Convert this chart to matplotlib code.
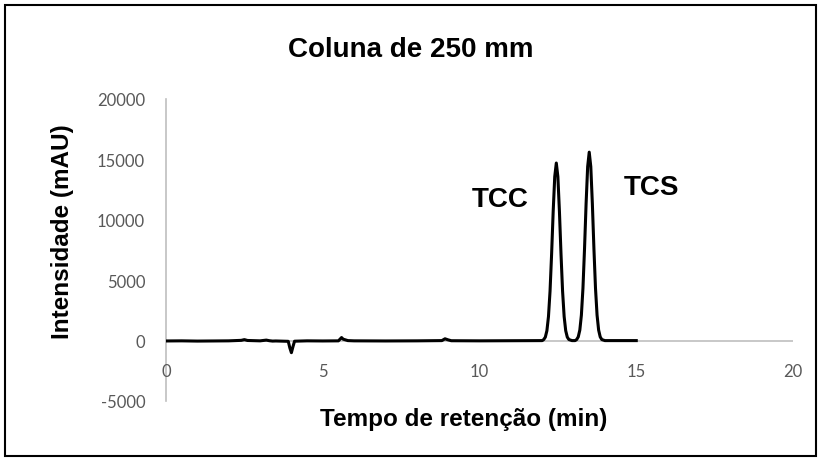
import numpy as np
import matplotlib
matplotlib.use('Agg')
import matplotlib.pyplot as plt
from matplotlib.patches import Rectangle

# Dữ liệu sắc ký đồ
tempo = [0, 0.5, 1.0, 1.5, 2.0, 2.4, 2.5, 2.6, 3.0, 3.2, 3.3, 3.4, 3.5,
         3.9, 3.95, 4.0, 4.05, 4.1, 4.5, 5.0, 5.5, 5.6, 5.65, 5.8, 6.0,
         7.0, 8.0, 8.8, 8.9, 9.0, 9.1, 10.0, 11.0, 12.0,
         12.05, 12.1, 12.15, 12.2, 12.25, 12.3, 12.35, 12.4, 12.45,
         12.5, 12.55, 12.6, 12.65, 12.7, 12.75, 12.8, 12.85, 12.95, 13.05,
         13.1, 13.15, 13.2, 13.25, 13.3, 13.35, 13.4, 13.45, 13.5,
         13.55, 13.6, 13.65, 13.7, 13.75, 13.8, 13.85, 13.9, 14.0, 15.0]
intensidade = [-30, -20, -40, -30, -20, 20, 80, 10, -20, 40, -10, -40, -30,
               -60, -600, -1000, -500, -50, -20, -30, -20, 250, 120, 0, -20,
               -30, -20, 0, 150, 60, -10, -20, -10, 0,
               90, 290, 820, 1990, 4090, 7160, 10670, 13570, 14700,
               13570, 10670, 7160, 4090, 1990, 820, 290, 90, 0, 0,
               90, 310, 870, 2110, 4340, 7600, 11330, 14400, 15600,
               14400, 11330, 7600, 4340, 2110, 870, 310, 90, 0, 0]

picos = ['TCC', 'TCS']
pico_x = [10.65, 15.5]
pico_y = [11700, 12700]

xticks = [0, 5, 10, 15, 20]
yticks = [-5000, 0, 5000, 10000, 15000, 20000]

fig = plt.figure(figsize=(8.23, 4.64), dpi=100)
ax = fig.add_axes([166/823, 62/464, 627/823, 302/464])

ax.plot(tempo, intensidade, color='black', lw=2.2, zorder=3)

ax.set_xlim(0, 20)
ax.set_ylim(-5000, 20000)
ax.set_xticks(xticks)
ax.set_yticks(yticks)
ax.set_yticklabels([str(v) for v in yticks])

for s in ['top', 'right', 'bottom']:
    ax.spines[s].set_visible(False)
ax.spines['left'].set_color('#bfbfbf')
ax.spines['left'].set_linewidth(1.2)
ax.axhline(0, color='#bfbfbf', lw=1.2, zorder=1)
ax.tick_params(axis='both', length=0, labelsize=12, labelcolor='#595959')
ax.tick_params(axis='y', pad=15)
for lab in ax.get_yticklabels():
    lab.set_fontfamily('Lato')

# nhãn trục x nằm ngay dưới đường 0
ax.set_xticklabels([])
for xv in xticks:
    ax.text(xv, -2500, str(xv), ha='center', va='center', fontsize=12,
            color='#595959', family='Lato')

for nome, px, py in zip(picos, pico_x, pico_y):
    ax.text(px, py, nome, ha='center', va='center', fontsize=20,
            fontweight='bold', family='Liberation Sans')

fig.text(411/823, 1 - 50/464, 'Coluna de 250 mm', ha='center', va='center',
         fontsize=20, fontweight='bold', family='Liberation Sans')
fig.text(464/823, 1 - 420/464, 'Tempo de retenção (min)', ha='center',
         va='center', fontsize=17.5, fontweight='bold', family='Liberation Sans')
fig.text(62/823, 1 - 232/464, 'Intensidade (mAU)', ha='center', va='center',
         rotation=90, fontsize=17.5, fontweight='bold', family='Liberation Sans')

fig.patches.append(Rectangle((5/823, 7/464), 811/823, 451/464, fill=False,
                             edgecolor='black', lw=1.5,
                             transform=fig.transFigure, figure=fig))

fig.savefig('out.png', dpi=100)
